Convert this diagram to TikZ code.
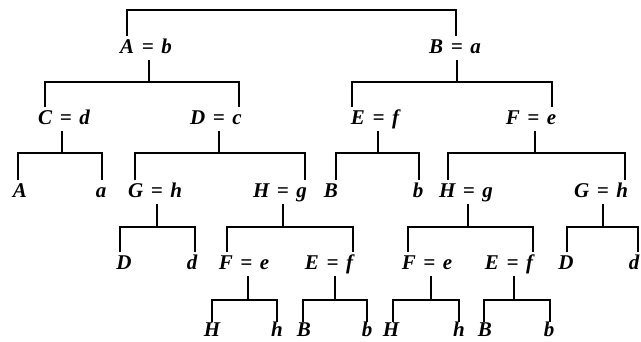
\documentclass[tikz,border=0pt]{standalone}
\usepackage{fontspec}
\setmainfont{Liberation Serif}
\newcommand\eqlab[2]{#1\hspace{0.36em}=\hspace{0.36em}#2}
\newcommand\fork[7]{%
  \coordinate (#1-s) at (#2,#3);
  \coordinate (#1-l) at (#4,#3);
  \coordinate (#1-r) at (#6,#3);
  \draw[treeline] (#1-s |- #1.south) -- (#1-s);
  \draw[treeline] (#1-l |- #5.north) -- (#1-l) -- (#1-r) -- (#1-r |- #7.north);
}
\begin{document}
\begin{tikzpicture}[x=1pt,y=-1pt,
  lab/.style={anchor=base,font=\fontsize{21}{24}\selectfont\bfseries\itshape,
    text height=13pt,text depth=3.5pt,inner xsep=0pt,inner ysep=3.5pt},
  leafbottom/.style={lab,text height=13.5pt,text depth=0pt,inner ysep=0pt},
  treeline/.style={line width=1.5pt,line join=miter}]
\useasboundingbox (0,0) rectangle (641,341);
% level 1
\node[lab] (Ab) at (146,53) {\eqlab{A}{b}};
\node[lab] (Ba) at (455,53) {\eqlab{B}{a}};
% level 2
\node[lab] (Cd) at (64,124) {\eqlab{C}{d}};
\node[lab] (Dc) at (216,124) {\eqlab{D}{c}};
\node[lab] (Ef) at (375,124) {\eqlab{E}{f}};
\node[lab] (Fe) at (531,124) {\eqlab{F}{e}};
% level 3
\node[lab] (A1) at (20,197) {A};
\node[lab] (a1) at (101,197) {a};
\node[lab] (Gh1) at (155,197) {\eqlab{G}{h}};
\node[lab] (Hg1) at (280,197) {\eqlab{H}{g}};
\node[lab] (B1) at (331,197) {B};
\node[lab] (b1) at (418,197) {b};
\node[lab] (Hg2) at (466,197) {\eqlab{H}{g}};
\node[lab] (Gh2) at (601,197) {\eqlab{G}{h}};
% level 4
\node[lab] (D1) at (124,269) {D};
\node[lab] (d1) at (192,269) {d};
\node[lab] (Fe1) at (244,269) {\eqlab{F}{e}};
\node[lab] (Ef1) at (329,269) {\eqlab{E}{f}};
\node[lab] (Fe2) at (427,269) {\eqlab{F}{e}};
\node[lab] (Ef2) at (509,269) {\eqlab{E}{f}};
\node[lab] (D2) at (566,269) {D};
\node[lab] (d2) at (634,269) {d};
% level 5
\node[leafbottom] (H1) at (212,336) {H};
\node[leafbottom] (h1) at (277,336) {h};
\node[leafbottom] (B2) at (304,336) {B};
\node[leafbottom] (b2) at (367,336) {b};
\node[leafbottom] (H2) at (391,336) {H};
\node[leafbottom] (h2) at (459,336) {h};
\node[leafbottom] (B3) at (485,336) {B};
\node[leafbottom] (b3) at (549,336) {b};
% top bar
\coordinate (top-l) at (127,10);
\coordinate (top-r) at (456,10);
\draw[treeline] (top-l |- Ab.north) -- (top-l) -- (top-r) -- (top-r |- Ba.north);
% forks
\fork{Ab}{149}{82}{45}{Cd}{239}{Dc}
\fork{Ba}{457}{82}{352}{Ef}{552}{Fe}
\fork{Cd}{62}{153}{18}{A1}{102}{a1}
\fork{Dc}{219}{153}{135}{Gh1}{305}{Hg1}
\fork{Ef}{378}{153}{336}{B1}{419}{b1}
\fork{Fe}{535}{153}{448}{Hg2}{625}{Gh2}
\fork{Gh1}{157}{227}{120}{D1}{195}{d1}
\fork{Hg1}{283}{227}{227}{Fe1}{353}{Ef1}
\fork{Hg2}{468}{227}{408}{Fe2}{533}{Ef2}
\fork{Gh2}{603}{227}{567}{D2}{638}{d2}
\fork{Fe1}{248}{300}{212}{H1}{277}{h1}
\fork{Ef1}{335}{300}{303}{B2}{367}{b2}
\fork{Fe2}{431}{300}{393}{H2}{459}{h2}
\fork{Ef2}{514}{300}{484}{B3}{550}{b3}
\end{tikzpicture}
\end{document}
